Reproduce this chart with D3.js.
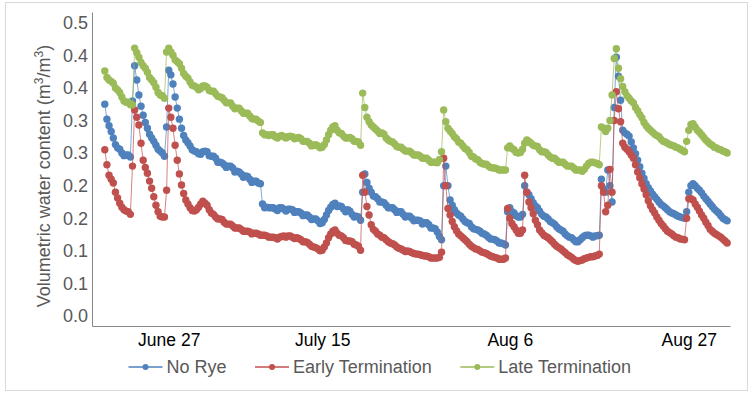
<!DOCTYPE html>
<html>
<head>
<meta charset="utf-8">
<script src="https://d3js.org/d3.v7.min.js"></script>
<style>
  body { margin: 0; background: #fff; }
  svg { font-family: "Liberation Sans", Arial, sans-serif; }
  .yaxis text { fill: #595959; font-size: 18px; }
  .xaxis text { fill: #000; font-size: 17.5px; }
  .yaxis path, .xaxis path { stroke: #868686; }
  .legend text { fill: #595959; font-size: 18px; }
  .ytitle { fill: #595959; font-size: 18px; }
</style>
</head>
<body>
<svg id="chart" width="754" height="394"></svg>
<script>
// sensor readings every 6 h, first one June 19 noon
var startTime = new Date(2015, 5, 19, 12);
var stepHours = 6;

var noRye = [
  .325, .302, .292, .283, .273, .263, .258, .256, .250, .246,
  .247, .247, .244, .330, .384, .362, .339, .322, .308, .297,
  .288, .279, .273, .268, .262, .256, .253, .250, .245, .290,
  .377, .370, .356, .336, .319, .302, .288, .277, .270, .266,
  .261, .255, .253, .252, .249, .248, .252, .253, .252, .246,
  .245, .245, .242, .236, .236, .235, .232, .228, .230, .230,
  .227, .221, .222, .221, .218, .213, .215, .214, .210, .205,
  .207, .207, .204, .203, .172, .166, .167, .166, .166, .166,
  .164, .162, .166, .166, .164, .161, .164, .164, .163, .159,
  .160, .160, .158, .154, .155, .155, .152, .148, .149, .149,
  .146, .142, .143, .148, .155, .162, .167, .171, .173, .168,
  .169, .168, .164, .160, .163, .161, .156, .152, .153, .152,
  .147, .190, .218, .205, .196, .190, .184, .183, .180, .175,
  .175, .174, .170, .166, .166, .166, .163, .159, .160, .160,
  .156, .152, .153, .153, .150, .146, .147, .147, .146, .141,
  .143, .143, .140, .135, .135, .134, .129, .122, .117, .200,
  .230, .200, .178, .170, .163, .158, .155, .153, .149, .145,
  .143, .142, .137, .134, .133, .132, .130, .127, .126, .124,
  .121, .118, .118, .117, .115, .112, .112, .111, .109, .160,
  .166, .160, .158, .154, .152, .152, .156, .200, .190, .186,
  .180, .174, .169, .166, .161, .156, .153, .152, .149, .145,
  .143, .141, .137, .134, .132, .130, .126, .123, .121, .120,
  .117, .114, .114, .117, .120, .123, .124, .124, .123, .121,
  .123, .123, .124, .210, .195, .190, .224, .200, .175, .320,
  .397, .368, .331, .285, .281, .279, .276, .267, .258, .249,
  .239, .229, .219, .211, .203, .197, .192, .187, .183, .179,
  .175, .171, .169, .166, .163, .160, .158, .157, .155, .153,
  .152, .151, .150, .160, .190, .200, .203, .200, .196, .193,
  .189, .184, .180, .176, .172, .168, .164, .161, .158, .154,
  .150, .148, .146
];

var earlyTerm = [
  .255, .232, .216, .210, .204, .190, .181, .173, .167, .163,
  .161, .160, .156, .230, .316, .305, .293, .265, .239, .228,
  .219, .207, .196, .183, .170, .160, .153, .152, .152, .193,
  .319, .305, .288, .262, .239, .218, .201, .188, .178, .172,
  .166, .162, .161, .163, .167, .172, .176, .173, .170, .163,
  .158, .156, .152, .149, .149, .148, .144, .141, .141, .141,
  .138, .135, .135, .135, .133, .130, .130, .130, .129, .126,
  .127, .127, .126, .124, .124, .124, .123, .121, .121, .121,
  .120, .118, .121, .122, .123, .121, .123, .123, .121, .119,
  .120, .119, .117, .114, .114, .113, .110, .107, .106, .105,
  .103, .100, .101, .106, .112, .120, .126, .130, .132, .127,
  .124, .123, .120, .116, .115, .115, .114, .110, .109, .107,
  .101, .216, .190, .168, .155, .140, .133, .130, .126, .124,
  .121, .120, .117, .114, .112, .111, .109, .106, .104, .103,
  .101, .099, .100, .099, .097, .096, .095, .095, .094, .093,
  .092, .092, .091, .089, .089, .089, .089, .090, .098, .242,
  .200, .165, .155, .145, .137, .131, .126, .123, .120, .117,
  .114, .110, .107, .105, .103, .102, .100, .098, .097, .096,
  .094, .092, .091, .090, .089, .087, .087, .087, .089, .165,
  .150, .142, .137, .132, .127, .127, .132, .216, .190, .175,
  .166, .157, .147, .140, .132, .128, .124, .122, .120, .117,
  .114, .110, .107, .105, .103, .100, .097, .094, .092, .090,
  .087, .085, .084, .085, .086, .088, .089, .090, .091, .091,
  .092, .093, .095, .200, .190, .160, .170, .225, .190, .300,
  .344, .318, .298, .265, .259, .256, .252, .247, .242, .232,
  .221, .212, .203, .195, .186, .177, .169, .163, .158, .152,
  .147, .142, .138, .134, .130, .128, .126, .123, .121, .120,
  .118, .118, .117, .150, .180, .180, .178, .172, .167, .161,
  .155, .150, .144, .139, .133, .130, .127, .125, .123, .121,
  .118, .115, .112
];

var lateTerm = [
  .376, .366, .362, .360, .357, .350, .347, .343, .336, .330,
  .328, .328, .324, .324, .411, .404, .397, .389, .384, .380,
  .374, .366, .362, .358, .351, .343, .339, .338, .334, .405,
  .411, .405, .400, .393, .390, .387, .380, .372, .368, .365,
  .359, .354, .353, .351, .347, .349, .353, .353, .351, .346,
  .345, .345, .341, .337, .336, .335, .331, .327, .327, .327,
  .322, .318, .319, .319, .315, .311, .311, .311, .307, .303,
  .302, .302, .299, .297, .281, .278, .278, .277, .278, .278,
  .275, .273, .276, .277, .275, .273, .275, .276, .275, .272,
  .273, .274, .272, .268, .268, .268, .265, .261, .262, .263,
  .261, .258, .259, .263, .270, .278, .285, .290, .292, .285,
  .281, .280, .276, .273, .273, .274, .272, .268, .268, .267,
  .262, .342, .320, .305, .298, .293, .290, .287, .284, .280,
  .281, .279, .273, .270, .268, .267, .264, .260, .259, .259,
  .256, .253, .253, .253, .250, .247, .247, .247, .245, .242,
  .242, .242, .239, .236, .236, .236, .235, .240, .252, .316,
  .298, .288, .284, .280, .275, .272, .267, .265, .261, .257,
  .255, .251, .245, .244, .241, .240, .236, .234, .233, .233,
  .230, .228, .227, .227, .226, .224, .224, .224, .224, .258,
  .261, .257, .255, .251, .250, .251, .256, .265, .270, .268,
  .265, .262, .261, .260, .255, .252, .252, .251, .247, .244,
  .242, .242, .239, .236, .236, .236, .233, .230, .230, .230,
  .227, .224, .224, .224, .222, .225, .230, .234, .236, .236,
  .235, .234, .232, .290, .288, .283, .288, .300, .339, .395,
  .410, .380, .364, .352, .344, .338, .334, .330, .327, .320,
  .315, .309, .304, .297, .292, .288, .285, .282, .279, .277,
  .275, .271, .268, .267, .265, .263, .262, .261, .259, .258,
  .256, .254, .252, .268, .285, .294, .295, .290, .285, .282,
  .278, .274, .270, .267, .264, .262, .259, .258, .256, .255,
  .253, .252, .250
];

var seriesNames = ["No Rye", "Early Termination", "Late Termination"];
var seriesColors = ["#4f81bd", "#c0504d", "#9bbb59"];

var yTicks = [0, 0.05, 0.1, 0.15, 0.2, 0.25, 0.3, 0.35, 0.4, 0.45];
var yTickLabels = ["0.0", "0.1", "0.1", "0.2", "0.2", "0.3", "0.3", "0.4", "0.4", "0.5"];
var xTicks = [new Date(2015, 5, 27), new Date(2015, 6, 15), new Date(2015, 7, 6), new Date(2015, 7, 27)];
var xTickLabels = ["June 27", "July 15", "Aug 6", "Aug 27"];

var svg = d3.select("#chart");

// outer chart frame
svg.append("rect")
    .attr("x", 5.5).attr("y", 2.5)
    .attr("width", 742).attr("height", 388)
    .attr("fill", "#fff")
    .attr("stroke", "#d9d9d9");

var x = d3.scaleTime()
    .domain([new Date(2015, 5, 18), new Date(2015, 7, 31, 20)])
    .range([92, 730]);

var y = d3.scaleLinear()
    .domain([-0.0153, 0.4664])
    .range([326, 12]);

var times = noRye.map(function(d, i) {
    return d3.timeHour.offset(startTime, i * stepHours);
});

var allSeries = [noRye, earlyTerm, lateTerm];

var line = d3.line()
    .x(function(d, i) { return x(times[i]); })
    .y(function(d) { return y(d); });

allSeries.forEach(function(vals, k) {
    var g = svg.append("g").attr("class", "series");
    g.append("path")
        .datum(vals)
        .attr("d", line)
        .attr("fill", "none")
        .attr("stroke", seriesColors[k])
        .attr("stroke-width", 1)
        .attr("stroke-opacity", 0.7);
    g.selectAll("circle")
        .data(vals)
        .enter()
        .append("circle")
        .attr("cx", function(d, i) { return x(times[i]); })
        .attr("cy", function(d) { return y(d); })
        .attr("r", 3.7)
        .attr("fill", seriesColors[k]);
});

// axes
svg.append("g")
    .attr("class", "yaxis")
    .attr("transform", "translate(92,0)")
    .call(d3.axisLeft(y)
        .tickValues(yTicks)
        .tickFormat(function(d, i) { return yTickLabels[i]; })
        .tickSize(0)
        .tickPadding(4));

svg.append("g")
    .attr("class", "xaxis")
    .attr("transform", "translate(0,326)")
    .call(d3.axisBottom(x)
        .tickValues(xTicks)
        .tickFormat(function(d, i) { return xTickLabels[i]; })
        .tickSize(0)
        .tickPadding(8));

d3.selectAll(".yaxis, .xaxis").attr("font-family", null).attr("font-size", null);

// y title with superscripts
var yt = svg.append("text")
    .attr("class", "ytitle")
    .attr("transform", "translate(50,176) rotate(-90)")
    .attr("text-anchor", "middle");
yt.append("tspan").text("Volumetric water content (m");
yt.append("tspan").attr("dy", -7).style("font-size", "12px").text("3");
yt.append("tspan").attr("dy", 7).text("/m");
yt.append("tspan").attr("dy", -7).style("font-size", "12px").text("3");
yt.append("tspan").attr("dy", 7).text(")");

// legend
var legend = svg.append("g").attr("class", "legend").attr("transform", "translate(128.5,367)");
var lx = 0;
seriesNames.forEach(function(name, k) {
    var item = legend.append("g").attr("transform", "translate(" + lx + ",0)");
    item.append("line")
        .attr("x1", 0).attr("x2", 34)
        .attr("stroke", seriesColors[k]).attr("stroke-width", 1.5);
    item.append("circle").attr("cx", 17).attr("r", 3).attr("fill", seriesColors[k]);
    var t = item.append("text").attr("x", 38).attr("dy", "0.35em").text(name);
    lx += 38 + t.node().getComputedTextLength() + 28.5;
});
</script>
</body>
</html>
